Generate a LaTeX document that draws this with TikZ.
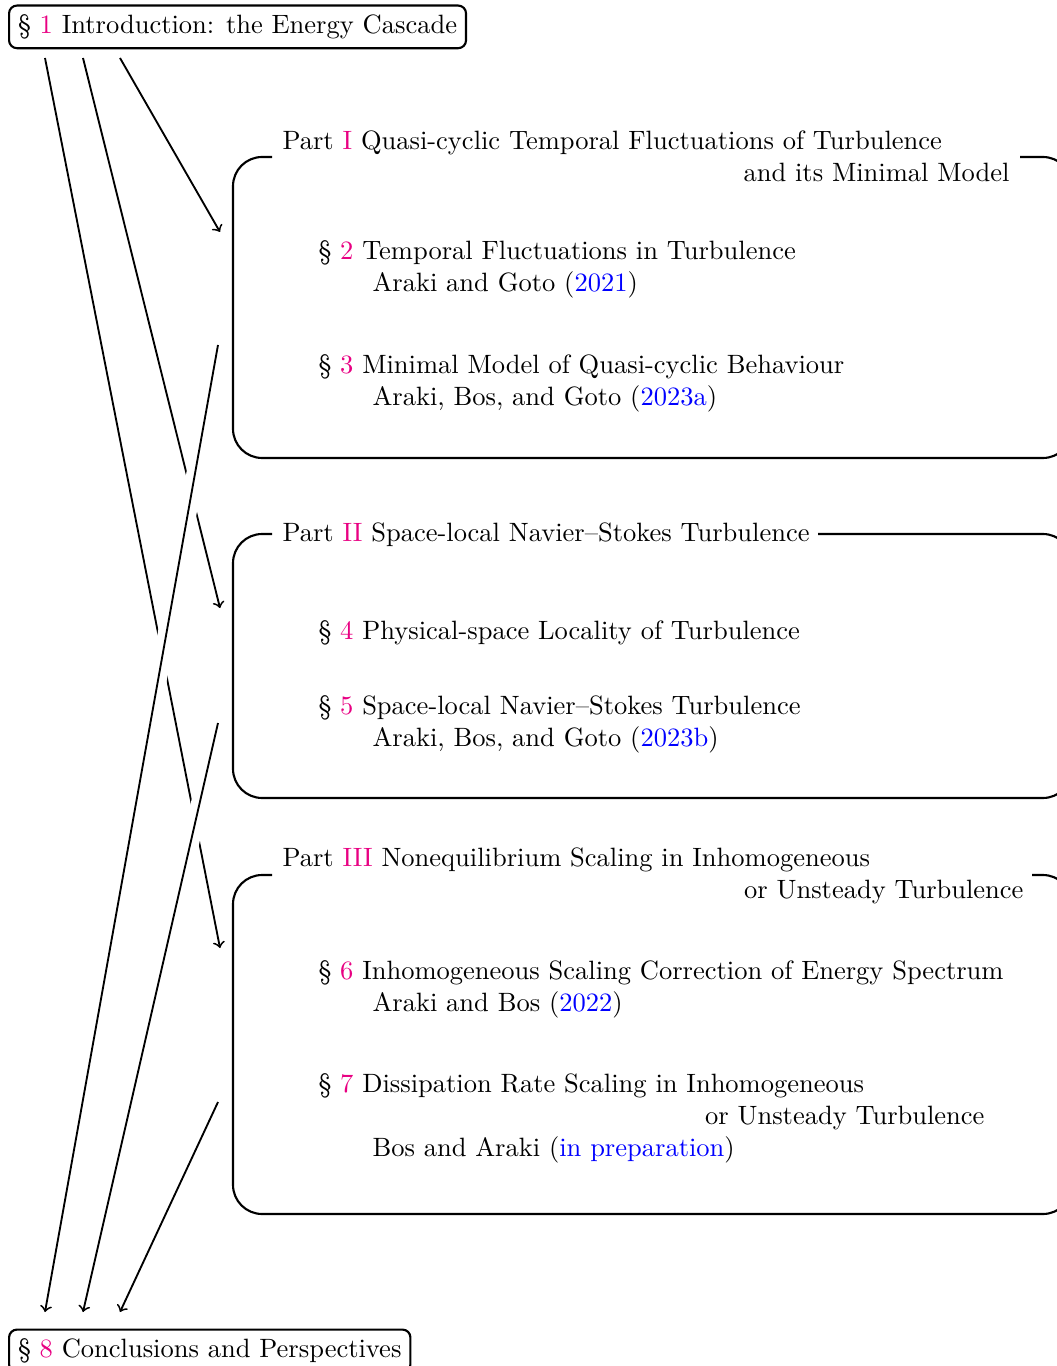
\documentclass[tikz,border=0pt]{standalone}
\usepackage{fontspec}
\definecolor{secnum}{RGB}{232,0,130}
\definecolor{citeblue}{RGB}{0,0,255}
\newcommand{\sn}[1]{\textcolor{secnum}{#1}}
\newcommand{\ct}[1]{\textcolor{citeblue}{#1}}
\begin{document}
\begin{tikzpicture}[x=0.37736pt,y=-0.37736pt,
  txt/.style={inner sep=0pt, anchor=base west},
  txtr/.style={inner sep=0pt, anchor=base east},
  secbox/.style={draw, rounded corners=3pt, line width=0.8pt, inner sep=3.4pt, anchor=north west},
  partframe/.style={line width=0.8pt, rounded corners=11pt},
  conn/.style={->, line width=0.7pt},
  halo/.style={->, line width=0.7pt, preaction={draw=white, line width=6.5pt, -}},
]
\useasboundingbox (0,0) rectangle (1057,1366);

% section boxes
\node[secbox] (intro) at (8,4.5) {\S\ \sn{1} Introduction: the Energy Cascade};
\node[secbox] (concl) at (8,1328.5) {\S\ \sn{8} Conclusions and Perspectives};

% part frames
\draw[partframe] (272,157) -- (233,157) -- (233,458) -- (1072,458) -- (1072,157) -- (1020,157);
\draw[partframe] (272,534) -- (233,534) -- (233,798) -- (1072,798) -- (1072,534) -- (818,534);
\draw[partframe] (272,875) -- (233,875) -- (233,1214) -- (1072,1214) -- (1072,875) -- (1032,875);

% Part I
\node[txt] (p1a) at (282,150) {Part \sn{I} Quasi-cyclic Temporal Fluctuations of Turbulence};
\node[txtr] (p1b) at (1010,182) {and its Minimal Model};
\node[txt] (s2a) at (318,260) {\S\ \sn{2} Temporal Fluctuations in Turbulence};
\node[txt] (s2b) at (372,292) {Araki and Goto (\ct{2021})};
\node[txt] (s3a) at (318,374) {\S\ \sn{3} Minimal Model of Quasi-cyclic Behaviour};
\node[txt] (s3b) at (372,406) {Araki, Bos, and Goto (\ct{2023a})};

% Part II
\node[txt] (p2a) at (282,542) {Part \sn{II} Space-local Navier--Stokes Turbulence};
\node[txt] (s4a) at (318,639) {\S\ \sn{4} Physical-space Locality of Turbulence};
\node[txt] (s5a) at (318,714) {\S\ \sn{5} Space-local Navier--Stokes Turbulence};
\node[txt] (s5b) at (372,746) {Araki, Bos, and Goto (\ct{2023b})};

% Part III
\node[txt] (p3a) at (282,866) {Part \sn{III} Nonequilibrium Scaling in Inhomogeneous};
\node[txtr] (p3b) at (1024,898) {or Unsteady Turbulence};
\node[txt] (s6a) at (318,979) {\S\ \sn{6} Inhomogeneous Scaling Correction of Energy Spectrum};
\node[txt] (s6b) at (372,1011) {Araki and Bos (\ct{2022})};
\node[txt] (s7a) at (318,1092) {\S\ \sn{7} Dissipation Rate Scaling in Inhomogeneous};
\node[txtr] (s7b) at (985,1124) {or Unsteady Turbulence};
\node[txt] (s7c) at (372,1156) {Bos and Araki (\ct{in preparation})};

% connector end points
\coordinate (i1) at (45,58);
\coordinate (i2) at (83,58);
\coordinate (i3) at (120,58);
\coordinate (c1) at (45,1312);
\coordinate (c2) at (83,1312);
\coordinate (c3) at (120,1312);
\coordinate (p1in) at (220,232);
\coordinate (p2in) at (220,608);
\coordinate (p3in) at (220,948);
\coordinate (p1out) at (218,345);
\coordinate (p2out) at (218,723);
\coordinate (p3out) at (218,1102);

\draw[conn] (i3) -- (p1in);
\draw[conn] (i2) -- (p2in);
\draw[conn] (i1) -- (p3in);
\draw[halo] (p1out) -- (c1);
\draw[halo] (p2out) -- (c2);
\draw[halo] (p3out) -- (c3);
\end{tikzpicture}
\end{document}
